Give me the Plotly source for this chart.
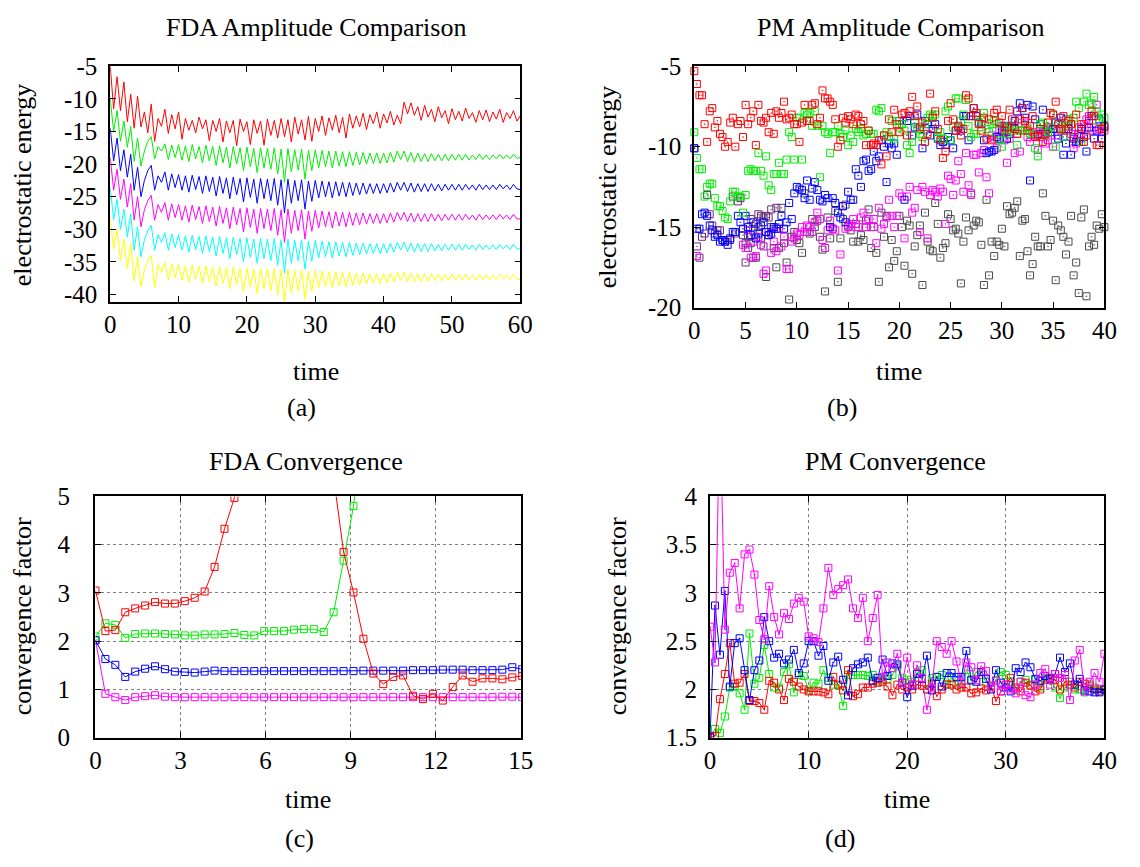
import plotly.graph_objects as go

# ---------------- (a) FDA amplitude comparison ----------------
# readings: peaks at integer time t=0..60, troughs at t=k+0.5 (k=0..59)
fda_red_peaks = [-5.0, -6.6, -7.4, -9.3, -9.6, -12.0, -10.8, -13.0, -11.6, -12.4,
                 -12.0, -13.0, -13.3, -12.8, -13.2, -13.3, -13.0, -13.4, -13.3, -13.1,
                 -13.5, -13.2, -13.4, -13.1, -13.3, -13.0, -13.2, -12.8, -13.2, -12.7,
                 -13.0, -12.6, -12.9, -12.5, -12.8, -12.3, -12.6, -12.2, -12.4, -12.0,
                 -12.3, -11.9, -12.5, -10.5, -10.6, -11.2, -11.0, -11.6, -11.2, -11.8,
                 -11.5, -11.9, -11.4, -12.1, -11.8, -11.7, -12.0, -11.6, -12.1, -11.8, -12.6]
fda_red_dips = [-11.5, -11.8, -13.5, -14.5, -14.3, -15.2, -16.5, -14.2, -15.3, -14.6,
                -16.2, -14.8, -15.2, -14.6, -16.4, -15.0, -16.6, -15.2, -17.2, -15.0,
                -17.0, -15.3, -17.1, -15.6, -16.0, -15.8, -16.6, -15.4, -16.3, -16.5,
                -15.0, -15.6, -14.8, -15.2, -16.0, -14.5, -14.3, -14.7, -13.8, -14.5,
                -13.7, -14.0, -13.8, -12.3, -12.5, -13.3, -12.8, -13.5, -12.9, -13.8,
                -13.2, -13.4, -13.0, -13.6, -13.2, -13.5, -13.1, -13.6, -13.0, -13.4]
fda_green_peaks = [-10.0, -11.8, -13.4, -14.2, -16.0, -18.0, -15.8, -17.3, -16.9, -17.1,
                   -17.0, -17.2, -17.0, -17.3, -17.1, -17.3, -17.2, -17.4, -17.3, -17.5,
                   -17.4, -17.6, -17.5, -17.6, -17.5, -17.7, -17.6, -17.8, -17.7, -17.9,
                   -17.8, -17.9, -18.0, -18.0, -18.1, -18.1, -18.2, -18.2, -18.3, -18.3,
                   -18.3, -18.2, -18.0, -18.0, -18.2, -18.3, -18.4, -18.4, -18.5, -18.5,
                   -18.5, -18.5, -18.5, -18.6, -18.5, -18.6, -18.6, -18.5, -18.6, -18.5, -19.0]
fda_green_dips = [-15.0, -16.5, -17.4, -19.6, -20.3, -16.5, -19.2, -18.0, -19.3, -19.0,
                  -19.4, -19.6, -19.2, -19.8, -19.5, -20.2, -19.8, -20.6, -20.0, -21.0,
                  -20.4, -21.3, -20.6, -20.8, -21.5, -22.8, -21.2, -20.9, -22.3, -21.0,
                  -20.6, -20.4, -20.6, -20.3, -20.4, -20.2, -20.1, -20.0, -19.9, -19.9,
                  -19.8, -19.7, -19.3, -19.6, -19.7, -19.6, -19.6, -19.5, -19.5, -19.5,
                  -19.4, -19.4, -19.4, -19.3, -19.3, -19.3, -19.2, -19.2, -19.2, -19.1]
fda_blue_peaks = [-14.5, -16.0, -17.8, -18.5, -20.5, -22.5, -20.2, -21.8, -21.2, -21.5,
                  -21.6, -21.8, -21.7, -21.9, -21.8, -22.0, -21.9, -22.1, -22.0, -22.2,
                  -22.1, -22.3, -22.2, -22.3, -22.2, -22.4, -22.3, -22.5, -22.4, -22.6,
                  -22.5, -22.6, -22.7, -22.7, -22.8, -22.8, -22.9, -22.9, -23.0, -23.0,
                  -23.0, -22.9, -22.8, -22.8, -22.9, -23.0, -23.0, -23.0, -23.1, -23.1,
                  -23.1, -23.1, -23.1, -23.2, -23.1, -23.2, -23.2, -23.1, -23.2, -23.1, -23.9]
fda_blue_dips = [-19.5, -21.0, -22.0, -24.0, -25.0, -21.0, -24.0, -22.8, -24.0, -23.6,
                 -24.0, -24.3, -23.9, -24.5, -24.2, -24.9, -24.5, -25.3, -24.7, -25.8,
                 -25.1, -26.0, -25.3, -25.6, -26.3, -27.5, -26.0, -25.6, -26.9, -25.7,
                 -25.2, -25.0, -25.2, -24.9, -25.0, -24.8, -24.7, -24.6, -24.5, -24.5,
                 -24.4, -24.3, -24.0, -24.2, -24.3, -24.2, -24.2, -24.1, -24.1, -24.0,
                 -24.0, -24.0, -23.9, -24.0, -23.9, -23.9, -23.9, -23.8, -23.9, -23.8]
fda_magenta_peaks = [-19.0, -20.8, -22.3, -23.0, -25.0, -27.0, -24.8, -26.2, -25.9, -26.1,
                     -26.2, -26.4, -26.3, -26.5, -26.4, -26.6, -26.5, -26.7, -26.6, -26.8,
                     -26.7, -26.9, -26.8, -26.9, -26.8, -27.0, -26.9, -27.1, -27.0, -27.2,
                     -27.1, -27.2, -27.3, -27.3, -27.4, -27.4, -27.5, -27.5, -27.6, -27.6,
                     -27.6, -27.5, -27.4, -27.4, -27.5, -27.6, -27.6, -27.6, -27.7, -27.7,
                     -27.7, -27.7, -27.7, -27.8, -27.7, -27.8, -27.8, -27.7, -27.8, -27.7, -28.4]
fda_magenta_dips = [-24.0, -25.4, -26.6, -28.6, -29.6, -25.6, -28.6, -27.4, -28.6, -28.2,
                    -28.6, -28.9, -28.5, -29.1, -28.8, -29.5, -29.1, -29.9, -29.3, -30.4,
                    -29.7, -30.6, -29.9, -30.2, -30.9, -32.0, -30.6, -30.2, -31.5, -30.3,
                    -29.8, -29.6, -29.8, -29.5, -29.6, -29.4, -29.3, -29.2, -29.1, -29.1,
                    -29.0, -28.9, -28.6, -28.8, -28.9, -28.8, -28.8, -28.7, -28.7, -28.6,
                    -28.6, -28.6, -28.5, -28.6, -28.5, -28.5, -28.5, -28.4, -28.5, -28.4]
fda_cyan_peaks = [-23.6, -25.4, -26.9, -27.6, -29.6, -31.6, -29.4, -30.8, -30.5, -30.7,
                  -30.8, -31.0, -30.9, -31.1, -31.0, -31.2, -31.1, -31.3, -31.2, -31.4,
                  -31.3, -31.5, -31.4, -31.5, -31.4, -31.6, -31.5, -31.7, -31.6, -31.8,
                  -31.7, -31.8, -31.9, -31.9, -32.0, -32.0, -32.1, -32.1, -32.2, -32.2,
                  -32.2, -32.1, -32.0, -32.0, -32.1, -32.2, -32.2, -32.2, -32.3, -32.3,
                  -32.3, -32.3, -32.3, -32.4, -32.3, -32.4, -32.4, -32.3, -32.4, -32.3, -33.0]
fda_cyan_dips = [-28.5, -30.0, -31.2, -33.2, -34.2, -30.2, -33.2, -32.0, -33.2, -32.8,
                 -33.2, -33.5, -33.1, -33.7, -33.4, -34.1, -33.7, -34.5, -33.9, -35.0,
                 -34.3, -35.2, -34.5, -34.8, -35.5, -36.7, -35.2, -34.8, -36.1, -34.9,
                 -34.4, -34.2, -34.4, -34.1, -34.2, -34.0, -33.9, -33.8, -33.7, -33.7,
                 -33.6, -33.5, -33.2, -33.4, -33.5, -33.4, -33.4, -33.3, -33.3, -33.2,
                 -33.2, -33.2, -33.1, -33.2, -33.1, -33.1, -33.1, -33.0, -33.1, -33.0]
fda_yellow_peaks = [-28.2, -30.0, -31.5, -32.2, -34.2, -36.2, -34.0, -35.4, -35.1, -35.3,
                    -35.4, -35.6, -35.5, -35.7, -35.6, -35.8, -35.7, -35.9, -35.8, -36.0,
                    -35.9, -36.1, -36.0, -36.1, -36.0, -36.2, -36.1, -36.3, -36.2, -36.4,
                    -36.3, -36.4, -36.5, -36.5, -36.6, -36.6, -36.7, -36.7, -36.8, -36.8,
                    -36.8, -36.7, -36.6, -36.6, -36.7, -36.8, -36.8, -36.8, -36.9, -36.9,
                    -36.9, -36.9, -36.9, -37.0, -36.9, -37.0, -37.0, -36.9, -37.0, -36.9, -37.7]
fda_yellow_dips = [-33.0, -34.8, -36.0, -37.9, -38.8, -34.8, -38.9, -36.6, -37.8, -37.4,
                   -37.8, -38.1, -37.7, -38.3, -38.0, -38.7, -38.3, -39.1, -38.5, -39.6,
                   -38.9, -39.8, -39.1, -39.4, -40.1, -41.3, -39.8, -39.4, -40.7, -39.5,
                   -39.0, -38.8, -39.0, -38.7, -38.8, -38.6, -38.5, -38.4, -38.3, -38.3,
                   -38.2, -38.1, -37.8, -38.0, -38.1, -38.0, -38.0, -37.9, -37.9, -37.8,
                   -37.8, -37.8, -37.7, -37.8, -37.7, -37.7, -37.7, -37.6, -37.7, -37.6]

# ---------------- (b) PM amplitude comparison (dt = 0.25) ----------------
pm_dt = 0.25
pm_red = [-5.3, -6.1, -6.8, -6.8, -8.6, -9.7, -7.8, -7.6, -8.8, -8.4,
          -9.2, -9.4, -10.0, -9.7, -8.5, -8.2, -10.0, -8.6, -8.4, -9.4,
          -7.4, -8.6, -8.2, -7.8, -9.9, -7.4, -8.4, -8.5, -8.2, -9.1,
          -7.9, -9.2, -7.8, -8.2, -7.9, -7.2, -8.3, -8.2, -8.0, -8.6,
          -8.6, -9.7, -8.5, -7.4, -8.4, -8.4, -7.4, -7.3, -8.6, -8.2,
          -6.5, -7.0, -7.0, -7.2, -7.4, -8.3, -10.0, -9.6, -8.2, -8.5,
          -8.1, -8.3, -8.6, -8.0, -8.1, -8.6, -8.4, -9.9, -9.0, -9.9,
          -9.8, -9.9, -9.6, -11.1, -9.3, -10.6, -8.3, -9.1, -7.7, -8.6,
          -9.1, -8.0, -7.9, -9.3, -7.8, -6.9, -8.1, -7.5, -8.8, -8.5,
          -9.7, -9.2, -6.7, -8.2, -7.8, -8.9, -9.6, -10.7, -10.3, -8.4,
          -7.3, -8.3, -9.0, -8.7, -9.3, -8.9, -6.8, -7.0, -8.1, -7.6,
          -7.9, -8.6, -9.0, -8.2, -9.5, -8.3, -9.6, -7.9, -7.7, -8.5,
          -8.1, -9.0, -8.8, -7.7, -8.3, -8.9, -9.2, -8.3, -7.6, -8.4,
          -9.0, -8.7, -8.1, -9.4, -9.3, -8.9, -9.7, -9.2, -8.5, -7.9,
          -8.0, -7.2, -8.6, -8.9, -8.1, -9.0, -8.4, -8.6, -9.4, -8.0,
          -8.8, -8.6, -9.7, -9.3, -8.4, -7.8, -8.1, -9.9, -9.9, -8.9,
          -8.8]
pm_green = [-9.1, -10.7, -11.4, -11.4, -13.1, -12.5, -12.3, -12.3, -13.2, -13.7,
            -13.7, -14.0, -14.4, -14.5, -13.4, -12.8, -12.8, -13.1, -13.1, -14.1,
            -13.0, -11.5, -11.4, -11.5, -11.5, -10.4, -11.5, -11.8, -10.6, -12.4,
            -12.7, -11.7, -11.7, -11.0, -11.7, -11.7, -10.8, -9.1, -9.4, -10.8,
            -8.2, -8.2, -10.8, -7.9, -8.0, -7.9, -8.7, -7.8, -8.7, -11.9,
            -8.7, -9.1, -9.2, -10.4, -9.1, -9.1, -8.7, -9.2, -9.4, -9.0,
            -9.9, -9.3, -9.7, -8.9, -9.1, -8.9, -9.3, -9.2, -9.0, -9.2,
            -9.2, -7.7, -7.8, -7.6, -9.3, -9.1, -9.4, -8.4, -9.5, -8.4,
            -8.8, -8.6, -9.0, -9.9, -10.4, -9.7, -8.5, -8.9, -9.2, -9.4,
            -8.6, -8.2, -8.0, -8.1, -8.0, -9.4, -9.1, -9.5, -7.8, -7.5,
            -9.6, -8.8, -7.0, -7.0, -8.4, -8.0, -7.1, -8.7, -9.4, -9.2,
            -9.2, -8.5, -8.3, -7.9, -8.9, -9.1, -8.6, -8.4, -8.6, -9.6,
            -10.0, -8.9, -9.2, -8.7, -9.0, -8.9, -9.9, -9.0, -9.0, -9.0,
            -8.8, -9.2, -9.2, -10.1, -10.6, -8.6, -8.5, -9.3, -9.1, -8.8,
            -8.0, -10.0, -8.6, -8.8, -9.4, -8.7, -8.3, -8.6, -8.2, -7.2,
            -7.6, -9.7, -7.2, -6.7, -7.4, -7.3, -6.9, -7.8, -8.4, -8.0,
            -8.2]
pm_blue = [-10.1, -15.1, -15.1, -14.2, -14.1, -14.3, -14.9, -15.2, -15.6, -15.5,
           -15.9, -15.8, -15.9, -16.1, -15.7, -15.3, -15.3, -14.3, -14.7, -15.1,
           -14.3, -15.0, -15.5, -14.7, -15.7, -15.4, -14.9, -14.7, -15.3, -15.5,
           -15.4, -15.0, -15.1, -14.8, -14.3, -15.1, -14.7, -13.5, -14.5, -12.9,
           -12.5, -12.6, -12.7, -13.2, -12.1, -13.3, -12.6, -12.2, -12.7, -13.3,
           -13.4, -13.0, -13.2, -15.0, -13.2, -13.5, -14.1, -14.4, -13.7, -14.7,
           -12.8, -13.3, -13.3, -11.4, -11.8, -12.5, -10.9, -10.8, -11.5, -11.4,
           -10.3, -10.9, -10.6, -9.6, -10.0, -12.2, -9.8, -10.1, -9.8, -10.5,
           -8.4, -8.6, -13.3, -8.4, -8.1, -9.3, -8.8, -8.0, -8.9, -10.1,
           -8.4, -8.6, -9.3, -8.9, -8.6, -9.5, -9.9, -9.7, -9.9, -9.4,
           -9.6, -10.1, -9.0, -8.8, -9.0, -8.1, -8.1, -9.6, -8.1, -7.6,
           -8.1, -8.5, -8.6, -9.6, -10.4, -10.3, -10.3, -10.2, -9.4, -9.5,
           -9.0, -8.7, -9.5, -9.2, -8.7, -8.4, -7.8, -7.3, -7.6, -8.2,
           -7.4, -12.1, -7.5, -8.3, -9.2, -8.6, -7.7, -9.1, -8.8, -9.1,
           -8.9, -8.5, -9.5, -8.2, -10.5, -9.8, -8.9, -10.5, -9.5, -9.7,
           -9.7, -8.9, -9.4, -10.3, -8.8, -8.1, -9.5, -9.0, -8.3, -9.5,
           -8.7]
pm_magenta = [None, -16.8, None, None, None, None, None, None, None, None,
              None, None, None, None, None, None, None, None, None, -16.1,
              -16.3, -15.2, -16.9, -15.9, -16.8, -15.6, -16.1, -17.9, -17.7, -15.3,
              -16.6, -15.9, -16.5, -15.1, -16.2, -15.6, -17.6, -17.6, -15.9, -15.7,
              -15.4, -15.5, -15.0, -15.3, -14.9, -15.0, -15.3, -14.7, -14.1, -14.5,
              -15.8, -16.3, -15.2, -14.6, -15.1, -15.2, -17.7, -16.7, -13.7, -15.1,
              -15.0, -14.8, -14.5, -15.0, -15.0, -14.4, -14.1, -15.0, -14.5, -15.0,
              -14.5, -16.0, -13.8, -15.1, -14.8, -14.4, -13.3, -14.3, -15.0, -14.3,
              -12.9, -13.1, -15.7, -13.1, -12.5, -14.1, -13.8, -12.7, -15.3, -12.5,
              -12.8, -15.7, -13.0, -12.7, -12.8, -13.1, -12.6, -12.8, -14.8, -11.8,
              -12.0, -13.0, -12.1, -10.9, -11.7, -12.8, -10.4, -12.4, -13.0, -10.5,
              -10.5, -11.6, -10.4, -10.2, -11.9, -12.9, -9.3, -9.5, -10.1, -8.9,
              -8.8, -9.6, -11.0, -9.5, -8.8, -10.4, -9.2, -10.3, -9.0, -8.5,
              -9.4, -9.7, -9.1, -9.3, -10.2, -9.4, -9.0, -9.8, -9.6, -9.3,
              -10.0, -8.9, -9.3, -9.0, -9.4, -8.3, -8.7, -9.2, -10.1, -9.8,
              -9.2, -9.2, -8.6, -8.3, -8.1, -9.0, -8.8, -7.4, -8.9, -9.1,
              -9.0]
pm_purple = [-10.1, -16.2, -16.9, -15.6, -15.4, -13.0, -14.2, -14.9, -15.4, -15.2,
             -15.2, -15.8, -15.9, -15.8, -15.8, -13.1, -15.4, -13.4, -13.2, -15.5,
             -17.2, -16.3, -14.5, -16.9, -14.8, -14.2, -14.3, -16.2, -14.3, -14.4,
             -13.9, -15.1, -13.8]
pm_gray_start = 5.0
pm_gray = [-16.0, -15.6, -16.0, -15.2, -16.9, -15.0, -15.7, -14.4, -18.1, -15.5,
           -15.0, -16.3, -17.5, -16.3, -13.8, -16.0, -17.2, -19.5, -15.6, -15.3,
           -15.8, -16.0, -16.6, -12.9, -15.3, -15.4, -14.5, -15.0, -14.6, -15.6,
           -16.4, -19.0, -14.4, -15.7, -15.1, -14.0, -18.4, -15.7, -14.5, -13.6,
           -14.9, -15.2, -15.9, -14.8, -15.9, -15.5, -15.8, -14.6, -13.9, -16.3,
           -15.0, -16.6, -18.4, -14.1, -15.6, -14.3, -17.5, -15.8, -17.1, -16.5,
           -14.3, -15.0, -17.4, -14.6, -14.9, -17.9, -16.2, -15.5, -14.9, -18.6,
           -14.1, -15.9, -16.4, -16.5, -13.5, -14.8, -16.9, -16.3, -16.0, -14.2,
           -14.5, -15.2, -15.1, -15.4, -18.5, -15.9, -14.4, -15.2, -12.9, -14.9,
           -14.6, -14.7, -16.1, -18.6, -13.3, -18.0, -15.9, -16.8, -15.9, -16.1,
           -15.1, -16.2, -13.7, -14.2, -14.1, -13.8, -13.4, -16.8, -14.6, -14.5,
           -16.5, -18.0, -17.3, -15.6, -16.2, -16.2, -12.9, -14.3, -16.2, -15.8,
           -14.6, -18.3, -14.9, -15.2, -15.6, -16.7, -15.9, -14.3, -18.0, -17.2,
           -19.1, -14.4, -13.9, -19.3, -16.2, -15.6, -16.1, -14.9, -15.1, -14.2,
           -15.0]

# ---------------- (c) FDA convergence (dt = 0.35) ----------------
fdac_dt = 0.35
fdac_red = [3.05, 2.21, 2.23, 2.60, 2.68, 2.74, 2.81, 2.78, 2.78, 2.83,
            2.90, 3.03, 3.54, 4.33, 4.97, 6.2, 7.5, 8.5, 9.0, 9.0,
            8.5, 7.8, 7.0, 6.3, 5.4, 3.85, 3.01, 2.05, 1.33, 1.11,
            1.26, 1.29, 0.87, 0.80, 0.91, 0.77, 1.05, 1.29, 1.16, 1.23,
            1.23, 1.21, 1.25, 1.28]
fdac_green = [2.10, 2.37, 2.34, 2.07, 2.15, 2.16, 2.16, 2.15, 2.14, 2.12,
              2.12, 2.14, 2.14, 2.15, 2.17, 2.13, 2.12, 2.21, 2.21, 2.21,
              2.24, 2.25, 2.25, 2.19, 2.60, 3.67, 4.80, 6.5]
fdac_blue = [2.02, 1.63, 1.51, 1.26, 1.37, 1.43, 1.48, 1.42, 1.37, 1.36,
             1.35, 1.37, 1.39, 1.38, 1.38, 1.38, 1.38, 1.38, 1.38, 1.38,
             1.38, 1.38, 1.38, 1.38, 1.38, 1.38, 1.38, 1.39, 1.39, 1.39,
             1.39, 1.39, 1.40, 1.40, 1.40, 1.41, 1.41, 1.41, 1.40, 1.40,
             1.40, 1.41, 1.46, 1.42]
fdac_magenta = [2.02, 0.91, 0.84, 0.78, 0.84, 0.86, 0.88, 0.85, 0.84, 0.84,
                0.84, 0.84, 0.84, 0.84, 0.84, 0.84, 0.84, 0.84, 0.84, 0.84,
                0.84, 0.84, 0.84, 0.84, 0.84, 0.84, 0.84, 0.84, 0.84, 0.84,
                0.84, 0.84, 0.84, 0.84, 0.84, 0.84, 0.84, 0.84, 0.84, 0.84,
                0.84, 0.85, 0.85, 0.84]

# ---------------- (d) PM convergence (dt = 0.5) ----------------
pmc_dt = 0.5
pmc_red = [1.50, 1.52, 1.90, 2.16, 2.48, 2.06, 2.07, 2.16, 1.88, 1.88,
           1.86, 1.79, 2.09, 2.07, 2.00, 1.89, 2.11, 2.08, 2.03, 2.00,
           1.98, 1.98, 1.98, 1.97, 1.95, 2.13, 2.05, 1.99, 2.20, 1.93,
           1.95, 2.02, 2.02, 2.06, 2.07, 2.08, 2.03, 1.94, 2.05, 2.00,
           2.02, 2.00, 2.05, 2.04, 2.00, 2.06, 1.93, 2.00, 2.05, 2.05,
           2.00, 2.02, 2.02, 1.96, 1.97, 2.01, 1.99, 2.04, 1.88, 1.98,
           2.05, 2.12, 2.02, 1.98, 2.07, 2.04, 1.98, 2.00, 2.10, 2.12,
           2.10, 2.00, 2.08, 2.05, 2.02, 2.08, 2.06, 2.04, 2.00, 1.98,
           2.00]
pmc_green = [1.51, 1.59, 1.55, 1.72, 2.02, 2.03, 1.96, 1.79, 2.58, 2.06,
             2.12, 2.46, 2.16, 2.02, 2.02, 2.18, 2.26, 1.97, 2.15, 2.14,
             1.99, 2.07, 2.06, 2.20, 2.12, 2.05, 2.04, 1.83, 2.15, 2.15,
             2.15, 2.15, 2.14, 2.15, 2.08, 2.10, 2.11, 2.15, 2.24, 2.12,
             2.10, 2.08, 2.17, 2.20, 2.00, 2.12, 2.13, 2.15, 2.06, 2.12,
             2.05, 2.05, 2.20, 2.09, 2.18, 2.15, 2.08, 2.03, 2.10, 2.18,
             2.15, 2.08, 2.00, 2.08, 2.10, 2.05, 2.10, 2.02, 2.12, 2.10,
             2.02, 1.91, 2.02, 2.08, 2.00, 2.00, 1.97, 2.06, 2.02, 2.00,
             2.00]
pmc_blue = [1.51, 2.87, 2.36, 3.02, 2.03, 2.48, 2.53, 2.20, 1.89, 2.20,
            2.30, 2.75, 2.50, 2.33, 2.37, 2.27, 2.31, 2.41, 2.17, 2.27,
            2.50, 2.50, 2.35, 2.45, 2.09, 2.28, 2.34, 2.10, 1.94, 2.22,
            2.26, 2.28, 2.33, 2.09, 2.12, 2.31, 2.14, 2.27, 2.26, 2.07,
            1.92, 2.04, 2.16, 2.11, 2.35, 1.99, 2.13, 2.03, 2.17, 2.17,
            2.13, 2.13, 2.40, 2.10, 2.08, 2.18, 2.11, 2.00, 2.20, 2.07,
            2.02, 1.98, 2.22, 2.18, 2.28, 2.23, 2.11, 2.09, 2.14, 2.11,
            2.16, 2.33, 2.18, 2.27, 2.05, 2.11, 1.99, 1.98, 1.97, 1.97,
            2.00]
pmc_magenta = [2.65, 2.28, 5.00, 2.62, 3.21, 3.31, 2.84, 3.40, 3.45, 3.19,
               2.72, 2.52, 3.07, 2.75, 2.57, 2.79, 2.73, 2.89, 2.95, 2.91,
               2.55, 2.53, 2.49, 2.84, 3.26, 2.98, 3.04, 3.08, 3.14, 2.84,
               2.74, 2.95, 2.50, 2.74, 2.98, 2.13, 2.28, 2.22, 2.37, 2.07,
               2.33, 2.05, 2.25, 2.12, 1.79, 2.02, 2.50, 2.44, 2.37, 2.50,
               2.29, 2.07, 2.28, 2.23, 2.10, 2.24, 2.19, 2.02, 2.09, 1.98,
               2.05, 2.00, 1.96, 2.08, 1.94, 1.92, 2.05, 2.17, 2.21, 2.05,
               2.16, 2.12, 2.15, 1.89, 2.30, 2.41, 1.98, 2.08, 2.17, 2.08,
               2.37]

# ---------------- styling ----------------
W, H = 1140, 867
FONT = "Liberation Serif"
RED, GREEN, BLUE, MAGENTA = "#ff0000", "#00ee00", "#0000ff", "#ff00ff"
CYAN, YELLOW, GRAY, PURPLE = "#00ffff", "#ffff00", "#4a4a4a", "#6a2c7a"
NBSP = "\u00a0"


def interleave(peaks, dips):
    xs, ys = [], []
    for k in range(len(dips)):
        xs += [k, k + 0.5]
        ys += [peaks[k], dips[k]]
    xs.append(len(dips))
    ys.append(peaks[len(dips)])
    return xs, ys


def times(n, dt, start=0.0):
    return [start + i * dt for i in range(n)]


def px_x(p):
    return p / W


def px_y(p):
    return 1 - p / H


fig = go.Figure()

# (a)
for peaks, dips, col in [(fda_red_peaks, fda_red_dips, RED),
                         (fda_green_peaks, fda_green_dips, GREEN),
                         (fda_blue_peaks, fda_blue_dips, BLUE),
                         (fda_magenta_peaks, fda_magenta_dips, MAGENTA),
                         (fda_cyan_peaks, fda_cyan_dips, CYAN),
                         (fda_yellow_peaks, fda_yellow_dips, YELLOW)]:
    xs, ys = interleave(peaks, dips)
    fig.add_trace(go.Scatter(x=xs, y=ys, mode="lines", line=dict(color=col, width=1),
                             xaxis="x", yaxis="y", showlegend=False, hoverinfo="skip"))

# (b)
pm_series = [(times(len(pm_gray), pm_dt, pm_gray_start), pm_gray, GRAY),
             (times(len(pm_purple), pm_dt), pm_purple, PURPLE),
             (times(len(pm_magenta), pm_dt), pm_magenta, MAGENTA),
             (times(len(pm_blue), pm_dt), pm_blue, BLUE),
             (times(len(pm_green), pm_dt), pm_green, GREEN),
             (times(len(pm_red), pm_dt), pm_red, RED)]
for xs, ys, col in pm_series:
    fig.add_trace(go.Scatter(x=xs, y=ys, mode="markers",
                             marker=dict(symbol="square-open-dot", size=7, color=col,
                                         line=dict(width=1, color=col)),
                             cliponaxis=False,
                             xaxis="x2", yaxis="y2", showlegend=False, hoverinfo="skip"))

# (c)
for ys, col in [(fdac_magenta, MAGENTA), (fdac_blue, BLUE), (fdac_green, GREEN), (fdac_red, RED)]:
    fig.add_trace(go.Scatter(x=times(len(ys), fdac_dt), y=ys, mode="lines+markers",
                             line=dict(color=col, width=1),
                             marker=dict(symbol="square-open", size=7, color=col,
                                         line=dict(width=1, color=col)),
                             xaxis="x3", yaxis="y3", showlegend=False, hoverinfo="skip"))

# (d)
for ys, col in [(pmc_green, GREEN), (pmc_red, RED), (pmc_blue, BLUE), (pmc_magenta, MAGENTA)]:
    fig.add_trace(go.Scatter(x=times(len(ys), pmc_dt), y=ys, mode="lines+markers",
                             line=dict(color=col, width=1),
                             marker=dict(symbol="square-open-dot", size=7, color=col,
                                         line=dict(width=1, color=col)),
                             xaxis="x4", yaxis="y4", showlegend=False, hoverinfo="skip"))


def axis(domain, rng, vals, texts, anchor, grid=False):
    return dict(domain=domain, range=rng, tickvals=vals, ticktext=texts, anchor=anchor,
                showline=True, linecolor="black", linewidth=1.5, mirror="ticks",
                ticks="inside", ticklen=6, tickwidth=1, tickcolor="black",
                showgrid=grid, gridcolor="#808080", griddash="dot", gridwidth=1,
                zeroline=False, fixedrange=True,
                tickfont=dict(family=FONT, size=25, color="black"))


a_xvals = [0, 10, 20, 30, 40, 50, 60]
a_yvals = [-5, -10, -15, -20, -25, -30, -35, -40]
b_xvals = [0, 5, 10, 15, 20, 25, 30, 35, 40]
b_yvals = [-5, -10, -15, -20]
c_xvals = [0, 3, 6, 9, 12, 15]
c_yvals = [0, 1, 2, 3, 4, 5]
d_xvals = [0, 10, 20, 30, 40]
d_yvals = [1.5, 2, 2.5, 3, 3.5, 4]


def lab(v, pad=0):
    return str(v) + NBSP * pad


fig.update_layout(
    width=W, height=H, margin=dict(l=0, r=0, t=0, b=0),
    paper_bgcolor="white", plot_bgcolor="white", showlegend=False,
    xaxis=axis([px_x(106), px_x(523)], [0, 60], a_xvals, [lab(v) for v in a_xvals], "y"),
    yaxis=axis([px_y(298), px_y(55)], [-41.1, -5], a_yvals, [lab(v, 1) for v in a_yvals], "x"),
    xaxis2=axis([px_x(700), px_x(1117)], [0, 40], b_xvals, [lab(v) for v in b_xvals], "y2"),
    yaxis2=axis([px_y(304), px_y(55)], [-20, -5], b_yvals, [lab(v, 1) for v in b_yvals], "x2"),
    xaxis3=axis([px_x(91), px_x(523.5)], [0, 15], c_xvals, [lab(v) for v in c_xvals], "y3", grid=True),
    yaxis3=axis([px_y(748), px_y(499)], [0, 5], c_yvals, [lab(v, 3) for v in c_yvals], "x3", grid=True),
    xaxis4=axis([px_x(716), px_x(1117)], [0, 40], d_xvals, [lab(v) for v in d_xvals], "y4", grid=True),
    yaxis4=axis([px_y(748), px_y(499)], [1.5, 4], d_yvals, [lab(v, 1) for v in d_yvals], "x4", grid=True),
)

texts = [
    ("FDA Amplitude Comparison", 315, 15, 0),
    ("PM Amplitude Comparison", 910, 15, 0),
    ("electrostatic energy", 17, 178, -90),
    ("electrostatic energy", 612, 180, -90),
    ("time", 315, 370, 0),
    ("time", 908, 370, 0),
    ("(a)", 300, 407, 0),
    ("(b)", 850, 407, 0),
    ("FDA Convergence", 305, 463, 0),
    ("PM Convergence", 905, 463, 0),
    ("convergence factor", 17, 623, -90),
    ("convergence factor", 622, 623, -90),
    ("time", 307, 812, 0),
    ("time", 916, 812, 0),
    ("(c)", 298, 852, 0),
    ("(d)", 848, 852, 0),
]
for t, x, y, ang in texts:
    fig.add_annotation(text=t, x=px_x(x), y=px_y(y), xref="paper", yref="paper",
                       xanchor="center", yanchor="middle", showarrow=False, textangle=ang,
                       font=dict(family=FONT, size=26, color="black"))

fig.write_html("out.html")
